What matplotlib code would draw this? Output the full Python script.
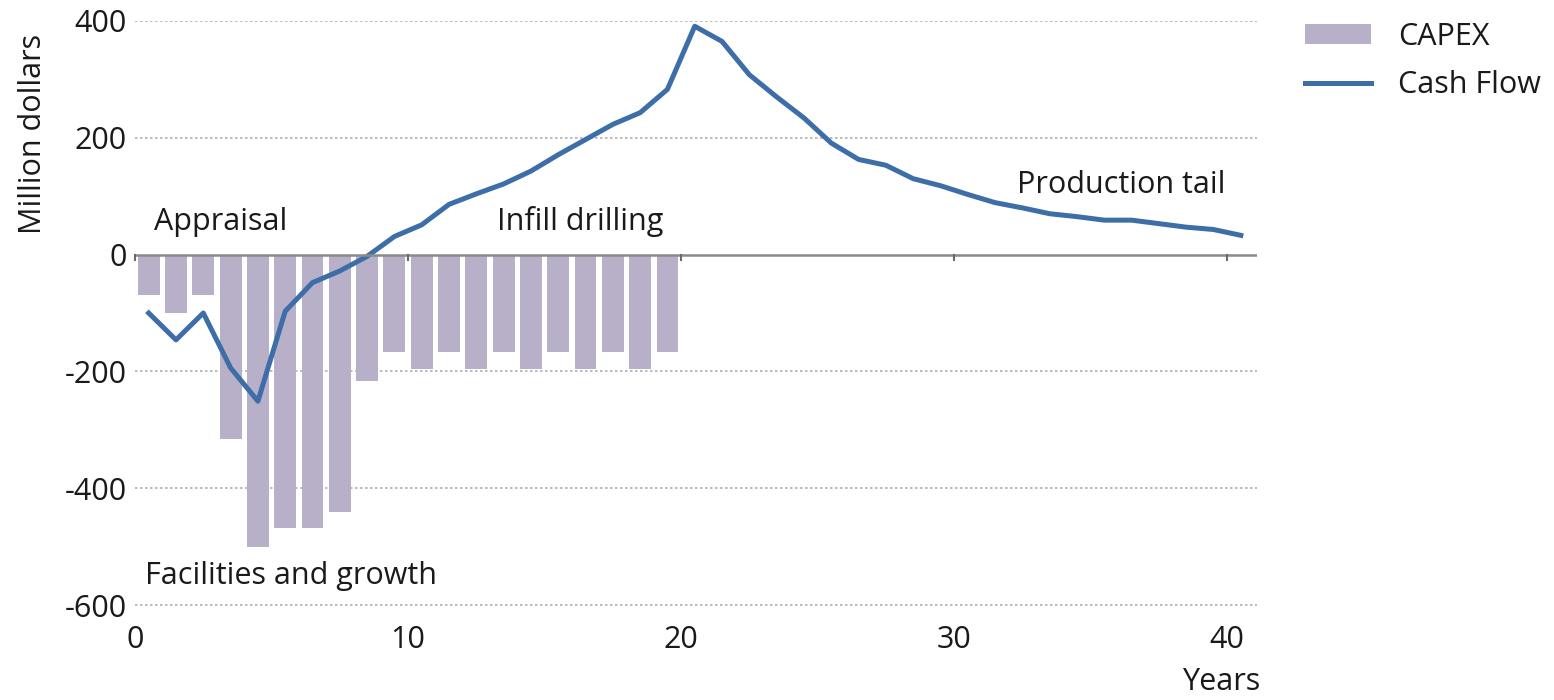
import matplotlib
matplotlib.use("Agg")
import matplotlib.pyplot as plt
import numpy as np

# Data
capex_years = np.arange(1, 21) - 0.5
capex = [-70, -100, -70, -315, -500, -468, -468, -441, -217, -167,
         -196, -167, -196, -167, -196, -167, -196, -167, -196, -167]

cf_years = np.arange(1, 42) - 0.5
cash_flow = [-100, -146, -100, -194, -251, -97, -48, -28, -3, 31,
             51, 86, 104, 121, 143, 171, 197, 223, 243, 283,
             391, 365, 308, 270, 234, 191, 163, 153, 130, 118,
             103, 89, 80, 70, 65, 59, 59, 53, 47, 43, 33]

x_ticks = [0, 10, 20, 30, 40]
y_ticks = [-600, -400, -200, 0, 200, 400]

annotations = [("Appraisal", 0.7, 56),
               ("Infill drilling", 13.25, 56),
               ("Production tail", 32.3, 120),
               ("Facilities and growth", 0.35, -551)]

plt.rcParams['font.family'] = ['Open Sans', 'DejaVu Sans']
FS = 22
TXT = '#1a1a1a'

fig = plt.figure(figsize=(15.54, 7.0), dpi=100)
ax = fig.add_axes([0.0869, 0.119, 0.809 - 0.0869, 0.97 - 0.119])

bar_color = '#b8b0c9'
line_color = '#3e6ea8'

bars = ax.bar(capex_years, capex, width=0.8, color=bar_color, label='CAPEX', zorder=2)
line, = ax.plot(cf_years, cash_flow, color=line_color, lw=3.6, label='Cash Flow', zorder=3,
                solid_joinstyle='round')

ax.set_xlim(0, 41.1)
ax.set_ylim(-620, 400)

# grid
for yv in y_ticks:
    if yv != 0:
        ax.axhline(yv, color='#b0b0b0', lw=1.2, ls=(0, (1.5, 1.5)), zorder=1)
ax.axhline(0, color='#8a8a8a', lw=1.8, zorder=4)

# tick marks along the zero line
for xv in x_ticks:
    ax.plot([xv, xv], [0, -10], color='#6a6a6a', lw=1.5, zorder=4, clip_on=False)

ax.set_xticks(x_ticks)
ax.set_xticklabels([str(v) for v in x_ticks], fontsize=FS, color=TXT)
ax.set_yticks(y_ticks)
ax.set_yticklabels([str(v) for v in y_ticks], fontsize=FS, color=TXT)
ax.tick_params(axis='both', length=0, pad=6)
ax.tick_params(axis='x', pad=6)
for s in ax.spines.values():
    s.set_visible(False)

ax.set_ylabel('Million dollars', fontsize=FS, color=TXT)
ax.yaxis.set_label_coords(-0.078, 0.81)
fig.text(0.786, 0.004, 'Years', fontsize=FS, ha='center', va='bottom', color=TXT)

for txt, xv, yv in annotations:
    ax.text(xv, yv, txt, fontsize=FS, ha='left', va='center', color=TXT, zorder=5)

leg = fig.legend([bars, line], ['CAPEX', 'Cash Flow'], loc='upper left',
                 bbox_to_anchor=(0.822, 1.008), frameon=False,
                 fontsize=FS, handlelength=2.15, handleheight=0.6, labelspacing=0.6,
                 handletextpad=0.9)
for t in leg.get_texts():
    t.set_color(TXT)

fig.savefig('out.png', dpi=100)
